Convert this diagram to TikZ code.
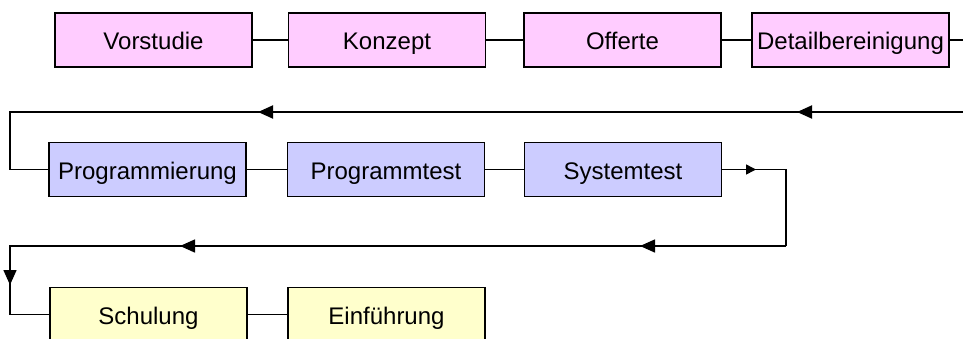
\documentclass[tikz,border=0pt]{standalone}
\usepackage{fontspec}
\setmainfont{Liberation Sans}
\usetikzlibrary{arrows.meta}
\definecolor{pinkfill}{HTML}{FFCCFF}
\definecolor{bluefill}{HTML}{CCCCFF}
\definecolor{yellowfill}{HTML}{FFFFCC}
\begin{document}
\begin{tikzpicture}[x=1pt,y=-1pt,
  box/.style={draw=black,line width=1.9pt,minimum width=197pt,minimum height=54pt,inner sep=0pt,
    text height=19pt,text depth=0pt,
    font=\fontsize{24}{28}\selectfont},
  pinkbox/.style={box,fill=pinkfill},
  bluebox/.style={box,fill=bluefill},
  yellowbox/.style={box,fill=yellowfill},
  conn/.style={line width=1.5pt},
  flow/.style={line width=1.9pt},
  bigtip/.style={-{Triangle[length=15pt,width=13pt]}},
  smalltip/.style={-{Triangle[length=10pt,width=10pt]}}]
\useasboundingbox (0,0) rectangle (963,338);
\clip (0,0) rectangle (963,338);
% row 1
\node[pinkbox] (vor) at (153.5,40) {Vorstudie};
\node[pinkbox] (kon) at (387,40) {Konzept};
\node[pinkbox] (off) at (622.5,40) {Offerte};
\node[pinkbox] (det) at (850.5,40) {Detailbereinigung};
% row 2
\node[bluebox] (prg) at (147.5,169.5) {Programmierung};
\node[bluebox] (pte) at (386,169.5) {Programmtest};
\node[bluebox] (sys) at (623,169.5) {Systemtest};
% row 3
\node[yellowbox] (sch) at (148.5,314.5) {Schulung};
\node[yellowbox] (ein) at (386.5,314.5) {Einführung};
% coordinates
\coordinate (detE) at (963,40);
\coordinate (r2s) at (963,112);
\coordinate (r2a) at (797,112);
\coordinate (r2b) at (258,112);
\coordinate (r2c) at (10,112);
\coordinate (sysA) at (756,169.5);
\coordinate (sysC) at (786,169.5);
\coordinate (r3s) at (786,246);
\coordinate (r3a) at (640,246);
\coordinate (r3b) at (180,246);
\coordinate (r3c) at (10,246);
\coordinate (r3d) at (10,285);
% row 1 connectors
\draw[conn] (vor.east) -- (kon.west);
\draw[conn] (kon.east) -- (off.west);
\draw[conn] (off.east) -- (det.west);
\draw[conn] (det.east) -- (detE);
% feedback to row 2
\draw[flow] (r2s) -- (r2c) |- (prg.west);
\draw[flow,bigtip] (r2s) -- (r2a);
\draw[flow,bigtip] (r2a) -- (r2b);
% row 2 connectors
\draw[conn] (prg.east) -- (pte.west);
\draw[conn] (pte.east) -- (sys.west);
\draw[conn] (sys.east) -- (sysC) -- (r3s);
\draw[conn,smalltip] (sys.east) -- (sysA);
% feedback to row 3
\draw[conn] (r3s) -- (r3c) |- (sch.west);
\draw[conn,bigtip] (r3s) -- (r3a);
\draw[conn,bigtip] (r3a) -- (r3b);
\draw[conn,bigtip] (r3c) -- (r3d);
% row 3 connectors
\draw[conn] (sch.east) -- (ein.west);
\end{tikzpicture}
\end{document}
